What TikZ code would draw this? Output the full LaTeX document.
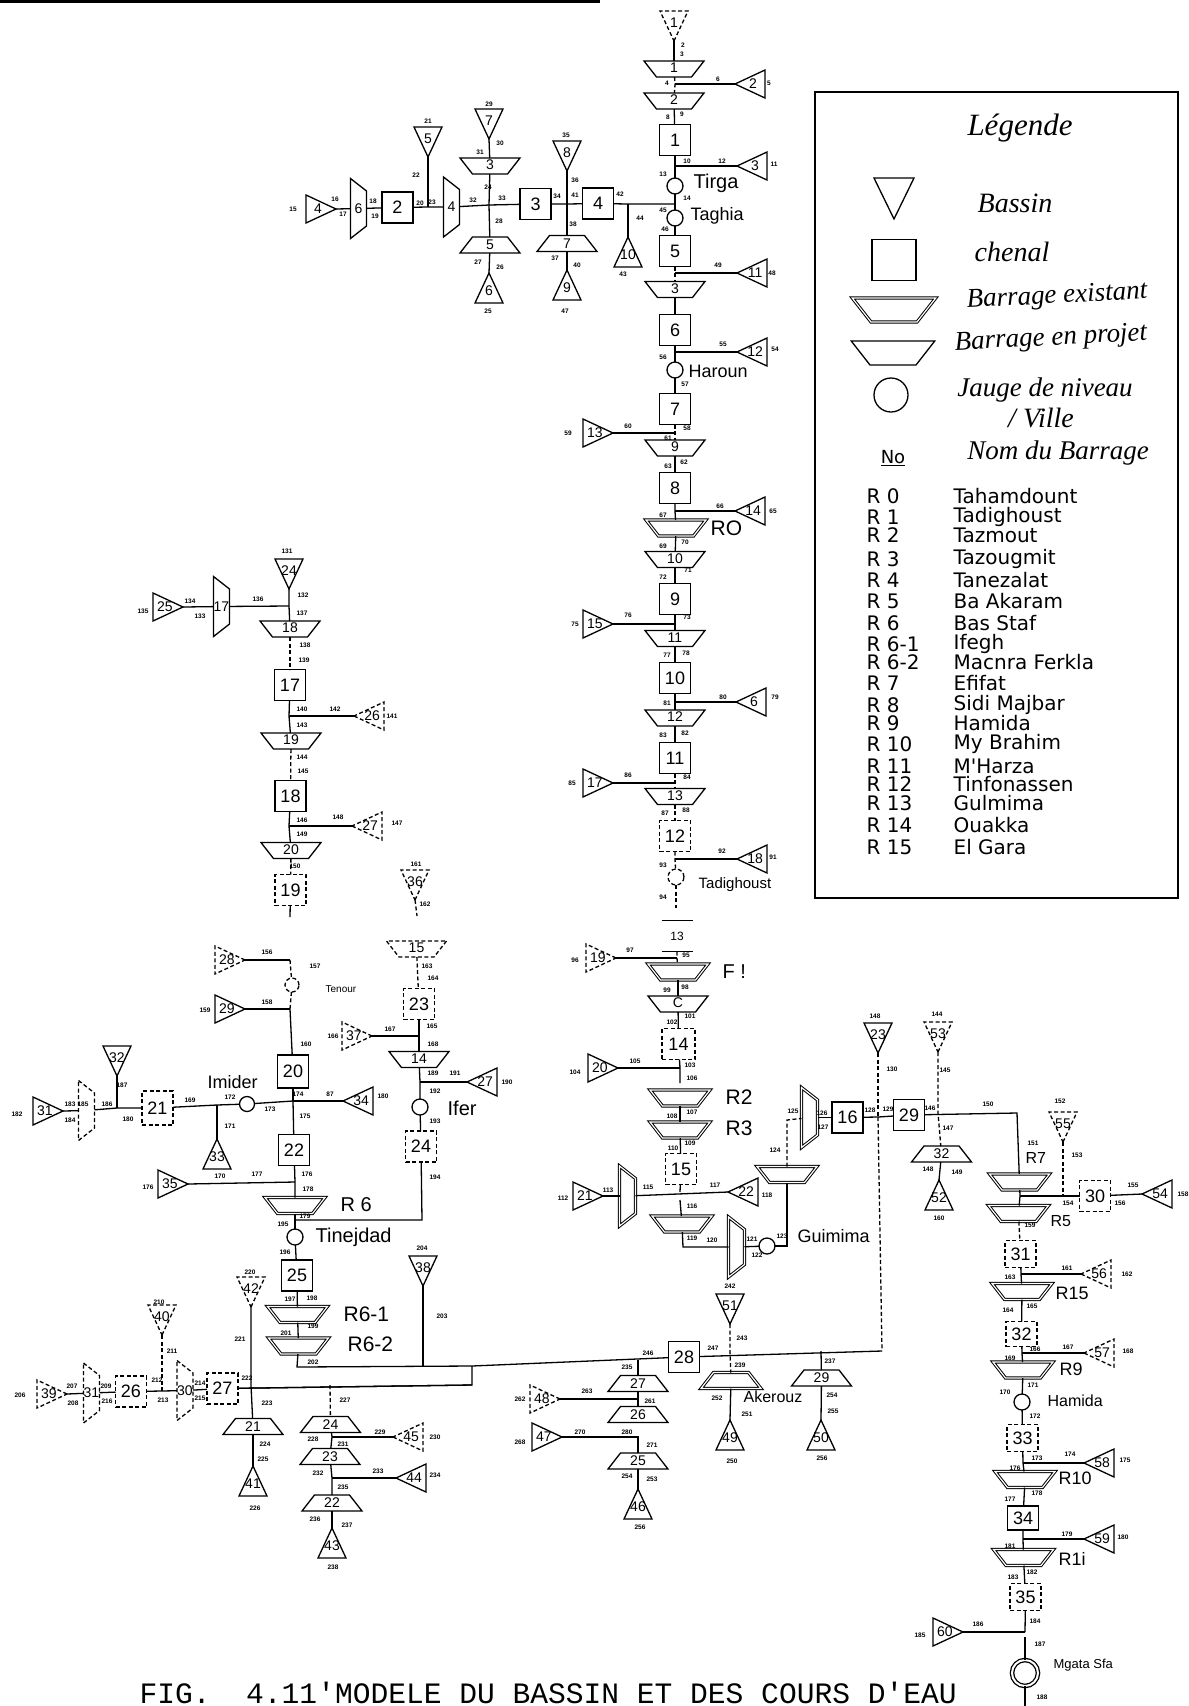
\documentclass[tikz,border=0pt]{standalone}
\usepackage{fontspec}
\setmainfont{Liberation Sans}
\newfontfamily\handf{Liberation Serif}
\newfontfamily\rowf{DejaVu Sans}
\newfontfamily\capf{Liberation Mono}
\usetikzlibrary{shapes.geometric}
\tikzset{
  numb/.style={font=\fontsize{14}{14}\selectfont,inner sep=0pt},
  lab/.style={font=\fontsize{6.5}{6.5}\selectfont\bfseries,inner sep=0pt},
  nom/.style={font=\fontsize{#1}{#1}\selectfont,inner sep=0pt,anchor=west},
  hand/.style={font=\fontsize{#1}{#1}\selectfont\handf\itshape,inner sep=0pt},
  chenal/.style={draw,rectangle,inner sep=0pt,outer sep=0pt,minimum width=31pt,minimum height=31pt,font=\fontsize{18}{18}\selectfont},
  jauge/.style={draw,circle,inner sep=0pt,outer sep=0pt,minimum size=16pt},
  tri/.style={draw,isosceles triangle,isosceles triangle stretches,inner sep=0pt,outer sep=0pt,anchor=apex,minimum width=28pt,minimum height=30pt},
  bassinG/.style={tri,shape border rotate=180,label={[numb,xshift=-3pt]center:#1}},
  bassinD/.style={tri,shape border rotate=0,label={[numb,xshift=3pt]center:#1}},
  bassinB/.style={tri,shape border rotate=270,label={[numb,yshift=-3pt]center:#1}},
  bassinH/.style={tri,shape border rotate=90,label={[numb,yshift=3pt]center:#1}},
  trap/.style={draw,trapezium,trapezium left angle=52,trapezium right angle=52,inner xsep=17.5pt,inner ysep=8pt,outer sep=0pt},
  barrage/.style={trap,shape border rotate=180,label={[numb,yshift=1pt]center:#1}},
  barrageI/.style={trap,label={[numb]center:#1}},
  barrageV/.style={trap,shape border rotate=270,inner xsep=8pt,inner ysep=17.5pt,label={[numb]center:#1}},
  existant/.style={double,double distance=1.2pt,line width=1pt},
  brise/.style={dash pattern=on 4pt off 2.5pt}
}
\begin{document}
\begin{tikzpicture}[x=1pt,y=-1pt,line width=1.3pt]
\useasboundingbox (0,0) rectangle (1189,1706);
\fill (0,0) rectangle (600,3);
% branche principale
\node[bassinB=1,brise] (b1) at (674,41) {};
\node[barrage=1] (d1) at (674,69) {};
\coordinate (j2) at (675,84);
\node[bassinG=2] (b2) at (735,84) {};
\node[barrage=2] (d2) at (674,101) {};
\node[chenal] (c1) at (675,140) {1};
\coordinate (j3) at (675,166);
\node[bassinG=3] (b3) at (737,166) {};
\node[jauge] (tirga) at (675,186) {};
\node[nom=20] (ntirga) at (693,183) {Tirga};
\coordinate (j4) at (675,204);
\node[jauge] (taghia) at (675,218) {};
\node[nom=18] (ntaghia) at (690,216) {Taghia};
\node[chenal] (c5) at (675,251) {5};
\coordinate (j11) at (675,273);
\node[bassinG=11] (b11) at (737,273) {};
\node[barrage=3] (d3) at (675,289.5) {};
\node[chenal] (c6) at (675,330) {6};
\coordinate (j12) at (675,352);
\node[bassinG=12] (b12) at (737,352) {};
\node[jauge] (haroun) at (675,370) {};
\node[nom=18] (nharoun) at (688,371) {Haroun};
\node[chenal] (c7) at (675,409) {7};
\coordinate (j13) at (675,433);
\node[bassinD=13] (b13) at (613,433) {};
\node[barrage=9] (d9) at (675,448) {};
\node[chenal] (c8) at (675,488) {8};
\coordinate (j14) at (675,511);
\node[bassinG=14] (b14) at (735,511) {};
\node[barrage={},existant] (dR0) at (676,528) {};
\node[nom=21] (nR0) at (710,528) {RO};
\node[barrage=10] (d10) at (675,559.5) {};
\node[chenal] (c9) at (675,599) {9};
\coordinate (j15) at (675,624);
\node[bassinD=15] (b15) at (613,624) {};
\node[barrage=11] (d11) at (675,638.5) {};
\node[chenal] (c10) at (675,678) {10};
\coordinate (j16) at (675,702);
\node[bassinG=6] (b16) at (736,702) {};
\node[barrage=12] (d12) at (675,718) {};
\node[chenal] (c11) at (675,758) {11};
\coordinate (j17) at (675,783);
\node[bassinD=17] (b17) at (613,783) {};
\node[barrage=13] (d13) at (675,796.5) {};
\node[chenal,brise] (c12) at (675,836) {12};
\coordinate (j18) at (675,859);
\node[bassinG=18] (b18) at (737,859) {};
\node[jauge,brise] (tadig) at (676,877) {};
\node[nom=15] (ntadig) at (698,885) {Tadighoust};
\coordinate (f1) at (676,908);
\node[chenal,draw=none,font=\fontsize{12}{12}\selectfont] (c13) at (677,936) {13};
\coordinate (j19) at (677,958);
\node[bassinD=19,brise] (b19) at (616,958) {};
\node[barrage={},existant] (dR1) at (678,972) {};
\node[nom=20] (nR1) at (722,972) {F !};
\node[barrage=C] (d2b) at (678,1004) {};
\node[chenal,minimum width=33pt,brise] (c14) at (678.5,1044) {14};
\coordinate (j20) at (680,1068);
\node[bassinD=20] (b20) at (618,1068) {};
\coordinate (f2) at (680,1083);
\node[barrage={},existant] (dR2) at (680,1098) {};
\node[nom=21] (nR2) at (725,1097) {R2};
\node[barrage={},existant] (dR3) at (680,1130) {};
\node[nom=21] (nR3) at (725,1128) {R3};
\node[chenal,brise] (c15) at (681,1169) {15};
\coordinate (j22) at (680,1192);
\node[bassinG=22] (b22) at (728,1192) {};
\node[barrageV={},existant] (dv15) at (627.5,1196) {};
\node[bassinD=21] (b21) at (603,1196) {};
\coordinate (f3) at (680,1200);
\node[barrage={},existant] (dU) at (682,1224) {};
\coordinate (j23) at (683,1247);
\node[barrageV={},existant] (dv16) at (736.5,1247) {};
\node[jauge] (guimima) at (767,1246) {};
\node[nom=18] (nguimima) at (797,1236) {Guimima};
\coordinate (k1) at (787,1246);
\node[barrage={},existant] (dG) at (787,1174.5) {};
\coordinate (k2) at (787,1120);
\node[barrageV={},existant] (dv17) at (809.5,1117.5) {};
\node[chenal] (c16) at (847.5,1117.5) {16};
% branche de gauche en haut
\node[chenal] (c4) at (598,203.5) {4};
\node[chenal] (c3) at (535.5,204) {3};
\node[chenal] (c2) at (397.5,207.5) {2};
\node[barrageV=4] (dv4) at (451.5,207) {};
\node[barrageV=6] (dv6) at (358.5,208.5) {};
\node[bassinD=4] (b4) at (336,209) {};
\coordinate (j5) at (428,207);
\node[bassinB=5] (b5) at (428,157) {};
\coordinate (j7) at (489,205);
\node[bassinB=7] (b7) at (489,139) {};
\node[barrage=3] (d3h) at (490,166) {};
\node[barrageI=5] (d5b) at (490,245) {};
\node[bassinH=6] (b6) at (489,273) {};
\coordinate (j8) at (567,204);
\node[bassinB=8] (b8) at (567,171) {};
\node[barrageI=7] (d7b) at (567,243.5) {};
\node[bassinH=9] (b9) at (567,270) {};
\coordinate (j10) at (628,204);
\node[bassinH=10] (b10) at (628,237) {};
% branche du haut a gauche
\node[bassinB=24] (b24) at (289,589) {};
\coordinate (j25) at (289,606);
\node[barrageV=17] (dv18) at (221.5,606.5) {};
\node[bassinD=25] (b25) at (183,607) {};
\node[barrage=18] (d18) at (290,629) {};
\node[chenal] (c17) at (290,685) {17};
\coordinate (j26) at (289,716);
\node[bassinG=26,brise] (b26) at (354,716) {};
\node[barrage=19] (d19) at (291,741) {};
\node[chenal] (c18) at (290.5,796) {18};
\coordinate (j27) at (289,826);
\node[bassinG=27,brise] (b27) at (352,826) {};
\node[barrage=20] (d20) at (291,850.5) {};
\node[chenal,brise] (c19) at (290.5,890) {19};
\coordinate (f4) at (290,917);
\coordinate (j28) at (290,960);
\node[bassinD=28,brise] (b28) at (245,960) {};
\node[jauge,brise,minimum size=14pt] (tenour) at (292,985) {};
\node[nom=10] (ntenour) at (325,989) {Tenour};
\coordinate (j29) at (290,1009);
\node[bassinD=29] (b29) at (245,1009) {};
\node[chenal,minimum height=33pt] (c20) at (293,1071.5) {20};
\coordinate (j34) at (293,1101);
\node[bassinG=34] (b34) at (343,1101) {};
\node[jauge,minimum size=15pt] (imider) at (247,1104) {};
\node[nom=18] (nimider) at (207,1082) {Imider};
\coordinate (j33) at (217,1105);
\node[bassinH=33] (b33) at (217,1139) {};
\node[chenal,brise,minimum height=34pt] (c21) at (157.5,1108) {21};
\coordinate (j32) at (117,1108);
\node[bassinB=32] (b32) at (117,1076) {};
\node[barrageV={},brise] (dv19) at (86.5,1110.5) {};
\node[bassinD=31] (b31) at (63,1111) {};
\node[chenal] (c22) at (294,1150) {22};
\coordinate (j35) at (295,1182);
\node[bassinD=35] (b35) at (188,1184) {};
\node[barrage={},existant] (dR6) at (295,1205.5) {};
\node[nom=20] (nR6) at (340,1205) {R 6};
\coordinate (j36) at (295,1220);
\node[jauge] (tinejdad) at (295,1237) {};
\node[nom=20] (ntinejdad) at (315,1237) {Tinejdad};
\node[chenal] (c25) at (297,1275.5) {25};
\node[barrage={},existant] (dR61) at (297.5,1314.5) {};
\node[nom=21] (nR61) at (343,1314) {R6-1};
\node[barrage={},existant] (dR62) at (298.5,1346) {};
\node[nom=21] (nR62) at (347,1344) {R6-2};
% branche de Ifer
\node[bassinB=36,brise] (b36) at (415,900) {};
\coordinate (f5) at (417,916);
\node[barrage=15,brise] (d15) at (416.5,949) {};
\node[chenal,brise] (c23) at (419,1004) {23};
\coordinate (j37) at (419,1036);
\node[bassinD=37,brise] (b37) at (372,1036) {};
\node[barrage=14] (d14) at (419,1059.5) {};
\coordinate (j38) at (420,1082);
\node[bassinG=27] (b27i) at (467,1082) {};
\node[jauge] (ifer) at (420,1107) {};
\node[nom=20] (nifer) at (447,1108) {Ifer};
\node[chenal,brise] (c24) at (421,1146.5) {24};
\coordinate (k3) at (422,1220);
% collecteur du bas
\node[chenal] (c28) at (684,1357) {28};
\coordinate (k4) at (297,1367);
\coordinate (k5) at (472,1366);
\coordinate (k6) at (472,1385);
\node[chenal,brise] (c27) at (222.5,1388.5) {27};
\node[barrageV=30,brise] (dv30) at (185,1390.5) {};
\coordinate (j40) at (162,1391);
\node[bassinB=40,brise] (b40) at (162,1335) {};
\node[chenal,brise] (c26) at (131,1391.5) {26};
\node[barrageV=31,brise] (dv31) at (91.5,1393) {};
\node[bassinD=39,brise] (b39) at (67,1394) {};
\coordinate (j42) at (251,1385);
\node[bassinB=42,brise] (b42) at (251,1307) {};
\node[barrageI=21] (d21) at (253,1426.5) {};
\node[bassinH=41] (b41) at (253,1466) {};
\coordinate (j38b) at (423,1366);
\node[bassinB=38] (b38) at (423,1286) {};
\coordinate (j24) at (330,1385);
\node[barrageI=24] (d24) at (330.5,1424.5) {};
\coordinate (j45) at (332,1437);
\node[bassinG=45,brise] (b45) at (393,1437) {};
\node[barrageI=23] (d23) at (330,1456.5) {};
\coordinate (j44) at (332,1478);
\node[bassinG=44] (b44) at (396,1478) {};
\node[barrageI=22] (d22) at (332,1503) {};
\node[bassinH=43] (b43) at (332,1528) {};
% sous le chenal 28
\coordinate (j27b) at (638,1360);
\node[barrageI=27] (d27) at (638,1383.5) {};
\coordinate (j48) at (638,1399);
\node[bassinD=48,brise] (b48) at (560,1399) {};
\node[barrageI=26] (d26) at (638,1414.5) {};
\coordinate (j47) at (638,1437);
\node[bassinD=47] (b47) at (562,1437) {};
\node[barrageI=25] (d25) at (638,1461) {};
\node[bassinH=46] (b46) at (638,1489) {};
\coordinate (j51) at (730,1351);
\node[bassinB=51] (b51) at (730,1324) {};
\node[barrageI={},existant] (dAk) at (731,1380.5) {};
\node[nom=16] (nAk) at (743,1397) {Akerouz};
\node[bassinH=49] (b49) at (730,1420) {};
\coordinate (j50) at (821,1351);
\node[barrageI=29] (d29) at (821.5,1378) {};
\node[bassinH=50] (b50) at (821,1420) {};
\coordinate (k7) at (882,1351);
\coordinate (j23b) at (878,1117);
\node[bassinB=23] (b23) at (878,1053) {};
% branche de droite
\node[chenal] (c29) at (909,1115) {29};
\coordinate (j53) at (938,1113);
\node[bassinB=53,brise] (b53) at (938,1052) {};
\node[barrageI=32] (d32) at (941.5,1154) {};
\node[bassinH=52] (b52) at (939,1180) {};
\coordinate (k8) at (1017,1113);
\node[nom=16] (nR7) at (1025,1158) {R7};
\node[barrage={},existant] (dR7) at (1019.5,1182) {};
\coordinate (j31) at (1020,1196);
\node[chenal,brise] (c30) at (1095,1196) {30};
\node[bassinG=54] (b54) at (1142,1194) {};
\coordinate (j55) at (1063,1196);
\node[bassinB=55,brise] (b55) at (1063,1142) {};
\node[barrage={},existant] (dR5) at (1018.5,1213.5) {};
\node[nom=16] (nR5) at (1050,1221) {R5};
\node[chenal,brise,minimum height=27pt] (c31) at (1020.5,1254) {31};
\coordinate (j56) at (1021,1274);
\node[bassinG=56,brise] (b56) at (1081,1274) {};
\node[barrage={},existant] (dR15) at (1022,1291.5) {};
\node[nom=18] (nR15) at (1055,1293) {R15};
\node[chenal,brise,minimum height=25pt] (c32) at (1021.5,1334) {32};
\coordinate (j57) at (1022,1353);
\node[bassinG=57,brise] (b57) at (1084,1353) {};
\node[barrage={},existant] (dR9) at (1023,1370) {};
\node[nom=18] (nR9) at (1059,1369) {R9};
\node[jauge] (hamida) at (1022,1402) {};
\node[nom=16] (nhamida) at (1047,1401) {Hamida};
\node[chenal,brise,minimum height=27pt] (c33) at (1022.5,1438) {33};
\coordinate (j58) at (1023,1463);
\node[bassinG=58] (b58) at (1084,1463) {};
\node[barrage={},existant] (dR10) at (1025,1479.5) {};
\node[nom=18] (nR10) at (1058,1478) {R10};
\node[chenal,minimum height=24pt] (c34) at (1023,1518) {34};
\coordinate (j59) at (1023,1539);
\node[bassinG=59] (b59) at (1084,1539) {};
\node[barrage={},existant] (dR11) at (1023.5,1557.5) {};
\node[nom=18] (nR11) at (1058,1559) {R1i};
\node[chenal,brise,minimum height=27pt] (c35) at (1025.5,1597) {35};
\coordinate (j60) at (1025,1632);
\node[bassinD=60] (b60) at (963,1632) {};
\coordinate (f6) at (1025,1637);
\node[jauge,double,double distance=2pt,minimum size=26pt] (mgata) at (1025,1673) {};
\node[nom=13] (nmgata) at (1053,1665) {Mgata Sfa};
\coordinate (f7) at (1025,1706);
% liaisons
\draw (b1.apex) -- (d1);
\draw[brise] (d1) -- (j2) -- (d2);
\draw (j2) -- (b2.apex);
\draw (d2) -- (c1);
\draw (c1) -- (j3) -- (tirga);
\draw (j3) -- (b3.apex);
\draw (tirga) -- (j4) -- (taghia);
\draw (taghia) -- (c5);
\draw[brise] (c5) -- (j11) -- (d3);
\draw (j11) -- (b11.apex);
\draw (d3) -- (c6);
\draw (c6) -- (j12) -- (haroun);
\draw (j12) -- (b12.apex);
\draw (haroun) -- (c7);
\draw[brise] (c7) -- (j13) -- (d9);
\draw (j13) -- (b13.apex);
\draw (d9) -- (c8);
\draw (c8) -- (j14) -- (dR0);
\draw (j14) -- (b14.apex);
\draw (dR0) -- (d10);
\draw (d10) -- (c9);
\draw (c9) -- (j15) -- (d11);
\draw (j15) -- (b15.apex);
\draw (d11) -- (c10);
\draw (c10) -- (j16) -- (d12);
\draw (j16) -- (b16.apex);
\draw (d12) -- (c11);
\draw[brise] (c11) -- (j17) -- (d13);
\draw (j17) -- (b17.apex);
\draw[brise] (d13) -- (c12);
\draw[brise] (c12) -- (j18) -- (tadig);
\draw (j18) -- (b18.apex);
\draw[brise] (tadig) -- (f1);
\draw (c13.north west) -- (c13.north east);
\draw (c13.south west) -- (c13.south east);
\draw[brise] (c13) -- (j19) -- (dR1);
\draw (j19) -- (b19.apex);
\draw (dR1) -- (d2b);
\draw (d2b) -- (c14);
\draw (c14) -- (j20) -- (f2);
\draw (j20) -- (b20.apex);
\draw (dR2) -- (dR3);
\draw (dR3) -- (c15);
\draw (dv15) -- (b22.apex);
\draw (c15) -- (j22);
\draw (b21.apex) -- (dv15);
\draw (f3) -- (dU);
\draw (dU) -- (j23) -- (dv16);
\draw (dv16) -- (guimima);
\draw (guimima) -- (k1) -- (dG);
\draw[brise] (dG) -- (k2) -- (dv17);
\draw (dv17) -- (c16);
\draw (c16) -- (j23b) -- (c29);
\draw[brise] (b23.apex) -- (j23b);
\draw[brise] (j23b) -- (k7);
\draw (k7) -- (c28);
\draw (b4.apex) -- (dv6);
\draw (dv6) -- (c2);
\draw (c2) -- (j5) -- (dv4);
\draw (b5.apex) -- (j5);
\draw (dv4) -- (j7) -- (c3);
\draw (b7.apex) -- (d3h);
\draw (d3h) -- (j7) -- (d5b);
\draw (d5b) -- (b6.apex);
\draw (c3) -- (j8) -- (c4);
\draw (b8.apex) -- (j8) -- (d7b);
\draw (d7b) -- (b9.apex);
\draw (c4) -- (j10) -- (j4);
\draw (j10) -- (b10.apex);
\draw (b24.apex) -- (j25) -- (d18);
\draw (j25) -- (dv18);
\draw (dv18) -- (b25.apex);
\draw[brise] (d18) -- (c17);
\draw (c17) -- (j26) -- (d19);
\draw (j26) -- (b26.apex);
\draw[brise] (d19) -- (c18);
\draw (c18) -- (j27) -- (d20);
\draw (j27) -- (b27.apex);
\draw[brise] (d20) -- (c19);
\draw (c19) -- (f4);
\draw (j28) -- (b28.apex);
\draw[brise] (j28) -- (tenour);
\draw[brise] (tenour) -- (j29);
\draw (j29) -- (b29.apex);
\draw (j29) -- (c20);
\draw (c20) -- (j34);
\draw (j34) -- (b34.apex);
\draw (imider) -- (j34);
\draw (c21) -- (j33) -- (imider);
\draw (j33) -- (b33.apex);
\draw (c21) -- (j32) -- (dv19);
\draw (b32.apex) -- (j32);
\draw (dv19) -- (b31.apex);
\draw (j34) -- (c22);
\draw (c22) -- (j35) -- (dR6);
\draw (j35) -- (b35.apex);
\draw (dR6) -- (j36) -- (tinejdad);
\draw (tinejdad) -- (c25);
\draw (c25) -- (dR61);
\draw (dR61) -- (dR62);
\draw (dR62) -- (k4) -- (k5) -- (c28);
\draw (k5) -- (k6) -- (c27);
\draw (c27) -- (dv30);
\draw (dv30) -- (j40) -- (c26);
\draw[brise] (b40.apex) -- (j40);
\draw (c26) -- (dv31);
\draw (dv31) -- (b39.apex);
\draw (b42.apex) -- (j42) -- (d21);
\draw (d21) -- (b41.apex);
\draw (b38.apex) -- (j38b);
\draw[brise] (j24) -- (d24);
\draw (d24) -- (j45) -- (d23);
\draw (j45) -- (b45.apex);
\draw (d23) -- (j44) -- (d22);
\draw (j44) -- (b44.apex);
\draw (d22) -- (b43.apex);
\draw (j27b) -- (d27);
\draw (d27) -- (j48) -- (d26);
\draw (j48) -- (b48.apex);
\draw (b47.apex) -- (j47) -- (d25);
\draw (d25) -- (b46.apex);
\draw[brise] (b51.apex) -- (j51) -- (dAk);
\draw (dAk) -- (b49.apex);
\draw (j50) -- (d29);
\draw (d29) -- (b50.apex);
\draw[brise] (b53.apex) -- (j53) -- (d32);
\draw (d32) -- (b52.apex);
\draw (c29) -- (k8) -- (dR7);
\draw (dR7) -- (j31) -- (dR5);
\draw (j31) -- (j55) -- (c30);
\draw[brise] (b55.apex) -- (j55);
\draw (c30) -- (b54.apex);
\draw[brise] (dR5) -- (c31);
\draw (c31) -- (j56) -- (dR15);
\draw (j56) -- (b56.apex);
\draw (dR15) -- (c32);
\draw (c32) -- (j57) -- (dR9);
\draw (j57) -- (b57.apex);
\draw (dR9) -- (hamida);
\draw (hamida) -- (c33);
\draw (c33) -- (j58) -- (dR10);
\draw (j58) -- (b58.apex);
\draw (dR10) -- (c34);
\draw (c34) -- (j59) -- (dR11);
\draw (j59) -- (b59.apex);
\draw (dR11) -- (c35);
\draw (c35) -- (j60);
\draw (j60) -- (b60.apex);
\draw (f6) -- (mgata);
\draw (mgata) -- (f7);
\draw (c23) -- (j37) -- (d14);
\draw (j37) -- (b37.apex);
\draw[brise] (b36.apex) -- (f5);
\draw[brise] (d15) -- (c23);
\draw (d14) -- (j38) -- (ifer);
\draw (j38) -- (b27i.apex);
\draw (ifer) -- (c24);
\draw (c24) -- (k3) -- (j36);
\draw (c27) -- (k6);
% numeros d'arcs
\foreach \px/\py/\num in {683/45/2,682/54/3,667/83/4,718/79/6,769/83/5,668/117/8,682/114/9,687/161/10,722/161/12,774/164/11,663/174/13,687/198/14,663/210/45,665/229/46,718/265/49,772/273/48,723/344/55,775/349/54,663/357/56,685/384/57,687/428/58,628/426/60,568/433/59,668/438/61,668/466/63,684/462/62,773/511/65,720/506/66,663/515/67,663/546/69,685/542/70,688/570/71,663/577/72,628/615/76,575/624/75,687/617/73,667/655/77,686/653/78,723/697/80,775/697/79,667/703/81,663/735/83,685/733/82,628/775/86,572/783/85,687/777/84,665/813/87,686/810/88,722/851/92,773/857/91,663/865/93,663/897/94,630/950/97,575/960/96,686/955/95,667/990/99,685/987/98,690/1016/101,672/1022/102,635/1061/105,575/1072/104,690/1065/103,692/1078/106,672/1116/108,692/1112/107,673/1148/110,690/1143/109,563/1198/112,608/1190/113,648/1187/115,715/1185/117,767/1195/118,692/1206/116,692/1238/119,712/1240/120,752/1239/121,757/1255/122,782/1236/123,775/1150/124,793/1111/125,822/1113/126,823/1127/127,870/1110/128,888/1109/129,875/1016/148,892/1069/130}
  \node[lab] (a\num) at (\px,\py) {\num};
\foreach \px/\py/\num in {293/209/15,335/199/16,343/214/17,373/201/18,375/216/19,420/203/20,432/202/23,416/175/22,428/121/21,473/200/32,502/198/33,499/221/28,488/187/24,480/152/31,500/143/30,489/104/29,478/262/27,500/267/26,488/311/25,557/196/34,575/195/41,575/180/36,566/135/35,573/224/38,555/258/37,577/265/40,565/311/47,620/194/42,640/218/44,623/274/43}
  \node[lab] (a\num) at (\px,\py) {\num};
\foreach \px/\py/\num in {287/551/131,303/595/132,302/613/137,190/601/134,200/616/133,143/611/135,258/599/136,305/645/138,304/660/139,302/709/140,335/709/142,392/716/141,302/725/143,302/757/144,303/771/145,302/820/146,338/817/148,397/823/147,302/834/149,295/866/150,267/952/156,315/966/157,267/1002/158,205/1010/159,306/1044/160,416/864/161,425/904/162,427/966/163,433/978/164,432/1026/165,390/1029/167,333/1036/166,433/1044/168,433/1073/189,455/1073/191,507/1082/190,122/1085/187}
  \node[lab] (e\num) at (\px,\py) {\num};
\foreach \px/\py/\num in {17/1114/182,70/1104/183,70/1120/184,83/1104/185,107/1104/186,128/1119/180,190/1100/169,230/1097/172,230/1126/171,270/1109/173,298/1094/174,330/1094/87,383/1096/180,305/1116/175,307/1174/176,308/1189/178,257/1174/177,148/1187/176,220/1176/170,435/1091/192,435/1121/193,435/1177/194,283/1224/195,305/1216/179,285/1252/196,290/1299/197,312/1298/198,286/1333/201,313/1326/199,313/1362/202,442/1316/203,422/1248/204,250/1272/220,240/1339/221,247/1378/222,267/1403/223,265/1444/224,263/1459/225,255/1508/226,345/1400/227,313/1439/228,380/1432/229,435/1437/230,343/1444/231,318/1473/232,378/1471/233,435/1475/234,343/1487/235,315/1519/236,347/1525/237,333/1567/238,159/1302/210,172/1351/211,157/1380/212,163/1400/213,200/1383/214,200/1398/215,72/1386/207,73/1403/208,20/1395/206,106/1386/209,107/1401/216}
  \node[lab] (g\num) at (\px,\py) {\num};
\foreach \px/\py/\num in {730/1286/242,742/1338/243,648/1353/246,713/1348/247,740/1365/239,627/1367/235,587/1391/263,520/1399/262,650/1401/261,580/1432/270,520/1442/268,627/1432/280,652/1445/271,627/1476/254,652/1479/253,640/1527/256,717/1398/252,747/1414/251,732/1461/250,830/1361/237,832/1395/254,833/1411/255,822/1458/256}
  \node[lab] (h\num) at (\px,\py) {\num};
\foreach \px/\py/\num in {945/1070/145,937/1014/144,930/1108/146,948/1128/147,988/1104/150,1033/1143/151,928/1169/148,957/1172/149,939/1218/160,1060/1101/152,1077/1155/153,1068/1203/154,1133/1185/155,1120/1203/156,1183/1194/158,1030/1225/159,1067/1268/161,1127/1274/162,1010/1277/163,1008/1310/164,1032/1306/165,1035/1349/166,1068/1347/167,1128/1351/168,1010/1358/169,1005/1392/170,1033/1385/171,1035/1416/172,1037/1458/173,1070/1454/174,1125/1460/175,1015/1468/176,1010/1499/177,1037/1493/178,1067/1534/179,1123/1537/180,1010/1546/181,1032/1572/182,1013/1577/183,1035/1621/184,978/1624/186,920/1635/185,1040/1644/187,1042/1697/188}
  \node[lab] (m\num) at (\px,\py) {\num};
% legende
\node[draw,line width=1.6pt,minimum width=363pt,minimum height=806pt,inner sep=0pt] (leg) at (996.5,495) {};
\node[hand=31] (ltitre) at (1020,128) {Légende};
\node[bassinB={},minimum width=40pt,minimum height=41pt] (lbassin) at (894,219) {};
\node[hand=28] (tbassin) at (1015,203) {Bassin};
\node[chenal,minimum width=44pt,minimum height=41pt] (lchenal) at (894,260) {};
\node[hand=28] (tchenal) at (1012,252) {chenal};
\node[barrage={},existant,inner xsep=23pt,inner ysep=12pt] (lexist) at (894,310) {};
\node[hand=27,rotate=3] (texist) at (1057,297) {Barrage existant};
\node[barrage={},inner xsep=23pt,inner ysep=12pt] (lproj) at (893,353) {};
\node[hand=27,rotate=3] (tproj) at (1051,339) {Barrage en projet};
\node[jauge,minimum size=34pt] (ljauge) at (891,395) {};
\node[hand=27] (tjauge) at (1045,390) {Jauge de niveau};
\node[hand=28] (tville) at (1041,418) {/ Ville};
\node[hand=27] (tnom) at (1058,453) {Nom du Barrage};
\node[font=\rowf\fontsize{18}{18}\selectfont,inner sep=0pt] (lno) at (893,458) {\underline{No}};
\foreach \py/\code/\lieu in {496/R 0/Tahamdount,517/R 1/Tadighoust,535/R 2/Tazmout,559/R 3/Tazougmit,580/R 4/Tanezalat,601/R 5/Ba Akaram,623/R 6/Bas Staf,644/R 6-1/Ifegh,662/R 6-2/Macnra Ferkla,683/R 7/Efifat,705/R 8/Sidi Majbar,723/R 9/Hamida,744/R 10/My Brahim,766/R 11/M'Harza,784/R 12/Tinfonassen,803/R 13/Gulmima,825/R 14/Ouakka,847/R 15/El Gara} {
  \node[nom=20,font=\rowf\fontsize{20}{20}\selectfont] (r\py) at (866,\py) {\code};
  \node[nom=20,font=\rowf\fontsize{20}{20}\selectfont] (s\py) at (953,\py) {\lieu};}
% titre
\node[font=\capf\fontsize{29.6}{29.6}\selectfont,inner sep=0pt,anchor=west] (titre) at (139,1693) {FIG.\ \ 4.11'MODELE DU BASSIN ET DES COURS D'EAU};
\end{tikzpicture}
\end{document}
